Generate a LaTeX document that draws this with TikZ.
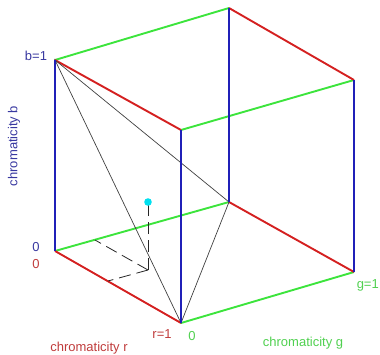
\documentclass[tikz,border=0pt]{standalone}
\usepackage{fontspec}
\setmainfont{Liberation Sans}
\usepackage{xcolor}
\usetikzlibrary{positioning}

\definecolor{axisblue}{RGB}{32,32,184}
\definecolor{axisred}{RGB}{212,32,32}
\definecolor{axisgreen}{RGB}{60,228,60}
\definecolor{textblue}{RGB}{56,56,160}
\definecolor{textred}{RGB}{192,60,60}
\definecolor{textgreen}{RGB}{80,208,80}
\definecolor{dotcyan}{RGB}{0,224,240}

\begin{document}
\begin{tikzpicture}[
    x=1pt, y=-1pt,
    redline/.style={draw=axisred, line width=1.9pt},
    greenline/.style={draw=axisgreen, line width=1.9pt},
    blueline/.style={draw=axisblue, line width=1.9pt},
    plane/.style={draw=black!75, line width=0.7pt},
    proj/.style={draw=black!85, line width=0.8pt, dash pattern=on 12pt off 6pt},
    lbl/.style={font=\fontsize{13}{15}\selectfont, inner sep=0pt}
]
    \useasboundingbox (0,0) rectangle (380,354);

    % corners of the cube
    \coordinate (o) at (55,251);
    \coordinate (r1) at (181,323);
    \coordinate (g1) at (229,202);
    \coordinate (rg) at (354,272);
    \coordinate (b1) at (55,60);
    \coordinate (rb) at (181,130);
    \coordinate (gb) at (229,8);
    \coordinate (rgb) at (354,80);

    % sample colour and its projection
    \coordinate (col) at (148,202);
    \coordinate (foot) at (148,270);
    \coordinate (footg) at (95,240);
    \coordinate (footr) at (108,281);

    % floor and top
    \draw[greenline] (o) -- (g1);
    \draw[greenline] (r1) -- (rg);
    \draw[greenline] (b1) -- (gb);
    \draw[greenline] (rb) -- (rgb);
    \draw[redline] (o) -- (r1);
    \draw[redline] (g1) -- (rg);
    \draw[redline] (b1) -- (rb);
    \draw[redline] (gb) -- (rgb);

    % chromaticity plane
    \draw[plane] (b1) -- (r1) -- (g1) -- cycle;

    % projection lines
    \draw[proj] (foot) -- (col);
    \draw[proj] (foot) -- (footg);
    \draw[proj] (foot) -- (footr);
    \fill[dotcyan] (col) circle (3.8);

    % verticals
    \draw[blueline] (o) -- (b1);
    \draw[blueline] (r1) -- (rb);
    \draw[blueline] (g1) -- (gb);
    \draw[blueline] (rg) -- (rgb);

    % labels
    \node[lbl, text=textblue] (lb1) at (36,56) {b=1};
    \node[lbl, text=textblue, rotate=90] (lbax) at (14,146) {chromaticity b};
    \node[lbl, text=textblue] (lb0) at (36,247) {0};
    \node[lbl, text=textred] (lr0) at (36,264) {0};
    \node[lbl, text=textred] (lrax) at (89,348) {chromaticity r};
    \node[lbl, text=textred] (lr1) at (162,334) {r=1};
    \node[lbl, text=textgreen] (lg0) at (192,336) {0};
    \node[lbl, text=textgreen] (lgax) at (303,343) {chromaticity g};
    \node[lbl, text=textgreen, anchor=east] (lg1) at (379,285) {g=1};
\end{tikzpicture}
\end{document}
